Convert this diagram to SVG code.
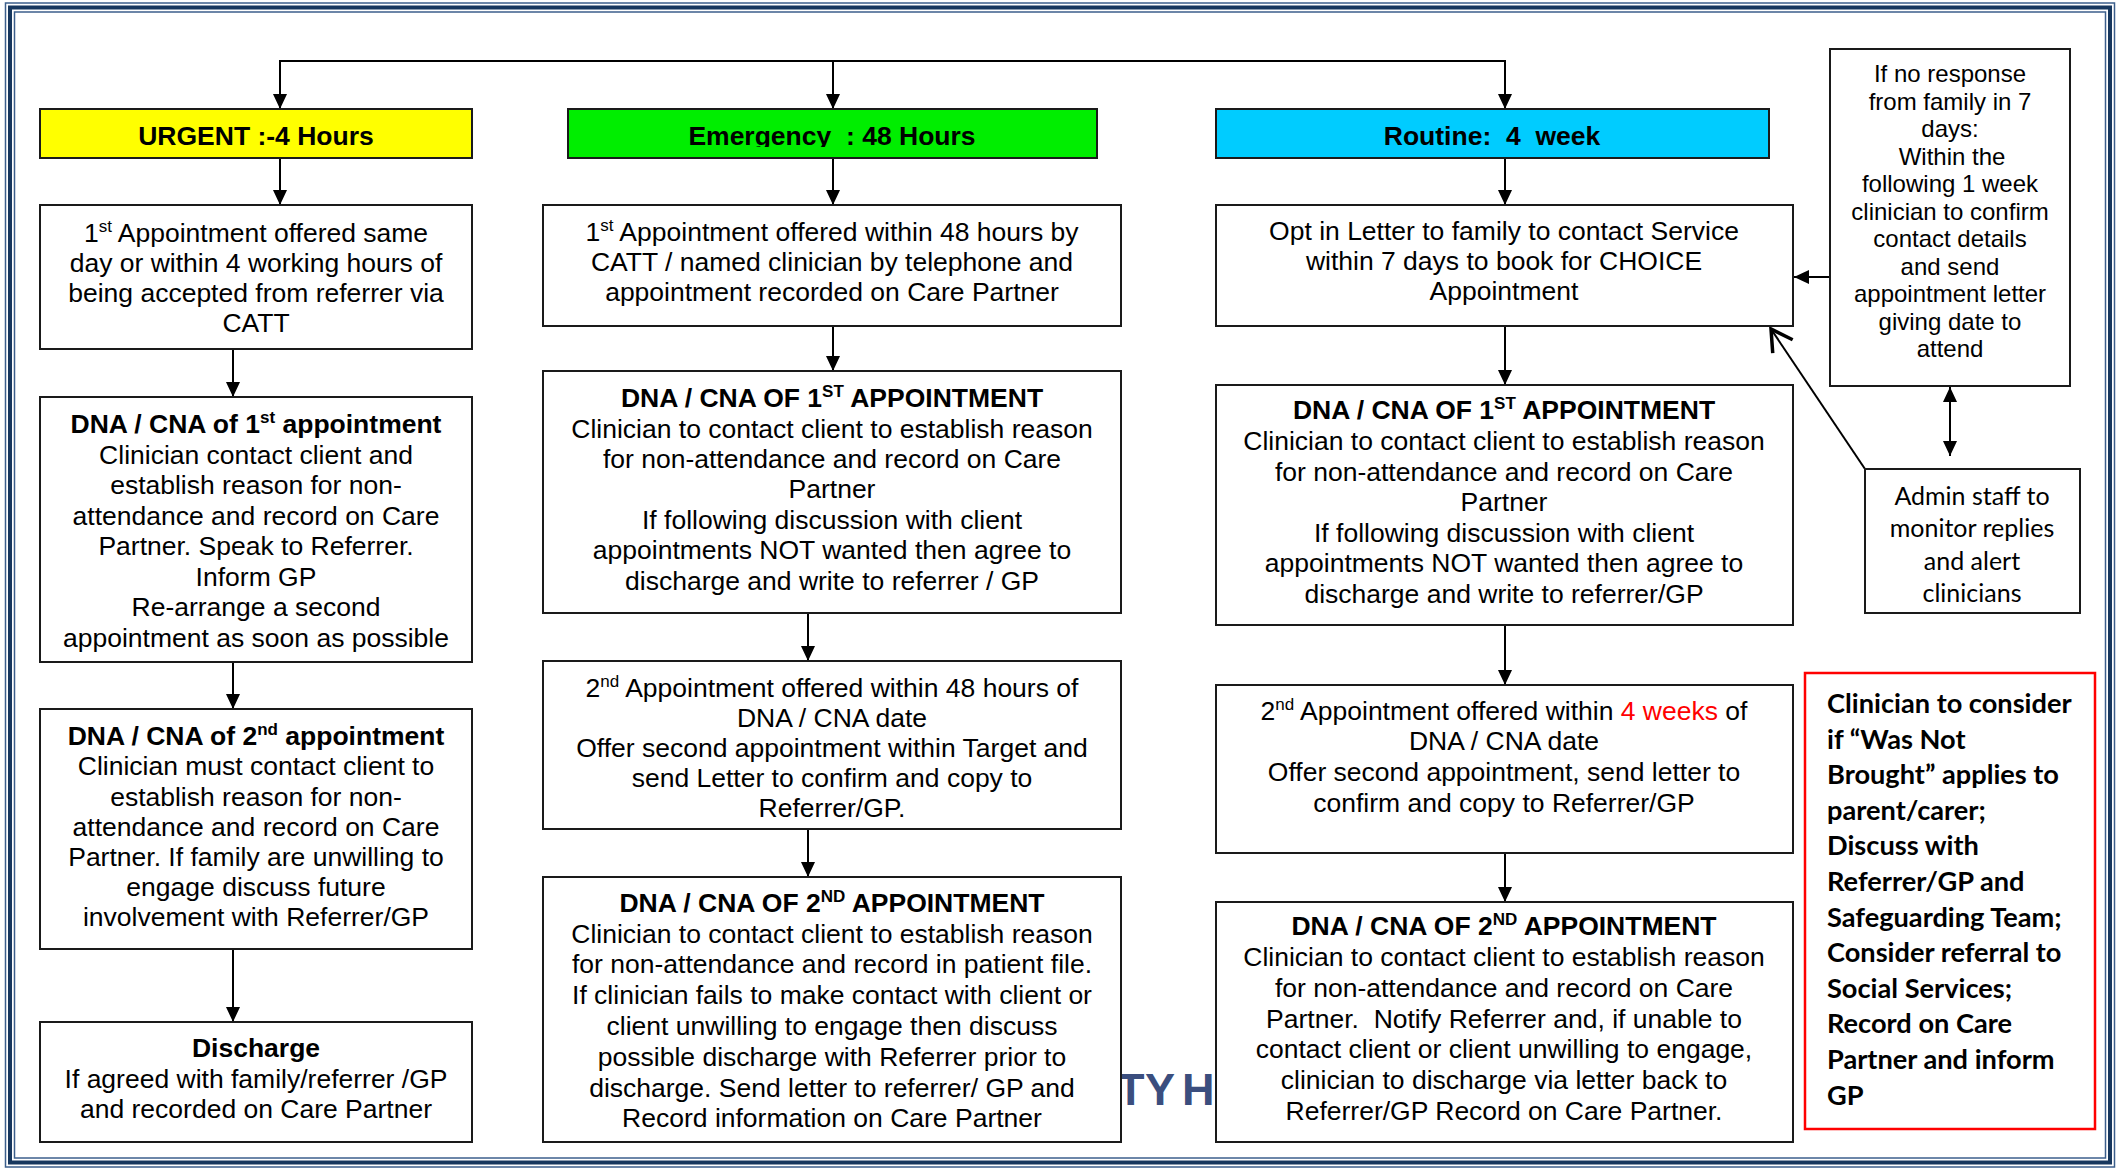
<svg xmlns="http://www.w3.org/2000/svg" width="2120" height="1170" viewBox="0 0 2120 1170">
<style>
.box{fill:#fff;stroke:#1a1a1a;stroke-width:2}
.t{font-family:"Liberation Sans",Arial,sans-serif;font-size:26.5px;fill:#000;text-anchor:middle}
.b{font-weight:bold}
.n{font-family:"Liberation Sans",Arial,sans-serif;font-size:24px;fill:#000;text-anchor:middle}
.c{font-family:Lato,"Open Sans",sans-serif;font-size:25px;fill:#000}
.r{font-family:Lato,"Open Sans",sans-serif;font-size:27.2px;font-weight:bold;fill:#000}
.conn{stroke:#000;stroke-width:2;fill:none}
.sup{font-size:17px}
</style>
<defs>
<marker id="ah" markerUnits="userSpaceOnUse" markerWidth="15" markerHeight="14" refX="15" refY="7" orient="auto-start-reverse">
<path d="M0,0 L15,7 L0,14 z" fill="#000"/>
</marker>
<marker id="oh" markerUnits="userSpaceOnUse" markerWidth="24" markerHeight="26" refX="22" refY="13" orient="auto" overflow="visible">
<path d="M1,1 L22,13 L1,25" fill="none" stroke="#000" stroke-width="3.5"/>
</marker>
<clipPath id="hclip"><rect x="568" y="109" width="529" height="38"/></clipPath>
</defs>
<rect width="2120" height="1170" fill="#fff"/>
<g id="frame" fill="none">
<rect x="5.5" y="3" width="2109" height="1164" stroke="#3c5f8c" stroke-width="1.5"/>
<rect x="10" y="7.5" width="2100" height="1155" stroke="#17375E" stroke-width="4"/>
<rect x="14.5" y="12" width="2091" height="1146" stroke="#3c5f8c" stroke-width="1.5"/>
</g>
<text x="1117 1145 1172 1182" y="1105" font-family="Liberation Sans,Arial,sans-serif" font-weight="bold" font-size="45" fill="#3B4E7E">TY H</text>
<g id="connectors">
<path class="conn" d="M280,109 V61 H1505 V109" marker-start="url(#ah)" marker-end="url(#ah)"/>
<path class="conn" d="M833,61 V109" marker-end="url(#ah)"/>
<path class="conn" d="M280,158 V205" marker-end="url(#ah)"/>
<path class="conn" d="M233,349 V397" marker-end="url(#ah)"/>
<path class="conn" d="M233,662 V709" marker-end="url(#ah)"/>
<path class="conn" d="M233,949 V1022" marker-end="url(#ah)"/>
<path class="conn" d="M833,158 V205" marker-end="url(#ah)"/>
<path class="conn" d="M833,326 V371" marker-end="url(#ah)"/>
<path class="conn" d="M808,613 V661" marker-end="url(#ah)"/>
<path class="conn" d="M808,829 V877" marker-end="url(#ah)"/>
<path class="conn" d="M1505,158 V205" marker-end="url(#ah)"/>
<path class="conn" d="M1505,326 V385" marker-end="url(#ah)"/>
<path class="conn" d="M1505,625 V685" marker-end="url(#ah)"/>
<path class="conn" d="M1505,853 V902" marker-end="url(#ah)"/>
<path class="conn" d="M1832,277 H1794" marker-end="url(#ah)" stroke-width="2.5"/>
<path class="conn" d="M1950,387 V456" marker-start="url(#ah)" marker-end="url(#ah)" stroke-width="2.5"/>
<path class="conn" d="M1865,469 L1771,329" marker-end="url(#oh)" stroke-width="3.5"/>
</g>
<g id="urgent-header">
<rect x="40" y="109" width="432" height="49" fill="#FFFF00" stroke="#1a1a1a" stroke-width="2"/>
<text class="t b" x="256" y="145">URGENT :-4 Hours</text>
</g>
<g id="emergency-header">
<rect x="568" y="109" width="529" height="49" fill="#00EE00" stroke="#1a1a1a" stroke-width="2"/>
<text class="t b" x="832" y="145" clip-path="url(#hclip)" xml:space="preserve">Emergency  : 48 Hours</text>
</g>
<g id="routine-header">
<rect x="1216" y="109" width="553" height="49" fill="#00CCFF" stroke="#1a1a1a" stroke-width="2"/>
<text class="t b" x="1492" y="145" xml:space="preserve">Routine:  4  week</text>
</g>
<g id="urgent-1">
<rect class="box" x="40" y="205" width="432" height="144"/>
<text class="t" x="256" y="242">1<tspan class="sup" dy="-10">st</tspan><tspan dy="10"> Appointment offered same</tspan></text>
<text class="t" x="256" y="272">day or within 4 working hours of</text>
<text class="t" x="256" y="302">being accepted from referrer via</text>
<text class="t" x="256" y="332">CATT</text>
</g>
<g id="urgent-2">
<rect class="box" x="40" y="397" width="432" height="265"/>
<text class="t b" x="256" y="433">DNA / CNA of 1<tspan class="sup" dy="-10">st</tspan><tspan dy="10"> appointment</tspan></text>
<text class="t" x="256" y="464">Clinician contact client and</text>
<text class="t" x="256" y="494">establish reason for non-</text>
<text class="t" x="256" y="525">attendance and record on Care</text>
<text class="t" x="256" y="555">Partner. Speak to Referrer.</text>
<text class="t" x="256" y="586">Inform GP</text>
<text class="t" x="256" y="616">Re-arrange a second</text>
<text class="t" x="256" y="647">appointment as soon as possible</text>
</g>
<g id="urgent-3">
<rect class="box" x="40" y="709" width="432" height="240"/>
<text class="t b" x="256" y="745">DNA / CNA of 2<tspan class="sup" dy="-10">nd</tspan><tspan dy="10"> appointment</tspan></text>
<text class="t" x="256" y="775">Clinician must contact client to</text>
<text class="t" x="256" y="806">establish reason for non-</text>
<text class="t" x="256" y="836">attendance and record on Care</text>
<text class="t" x="256" y="866">Partner. If family are unwilling to</text>
<text class="t" x="256" y="896">engage discuss future</text>
<text class="t" x="256" y="926">involvement with Referrer/GP</text>
</g>
<g id="urgent-discharge">
<rect class="box" x="40" y="1022" width="432" height="120"/>
<text class="t b" x="256" y="1057">Discharge</text>
<text class="t" x="256" y="1088">If agreed with family/referrer /GP</text>
<text class="t" x="256" y="1118">and recorded on Care Partner</text>
</g>
<g id="emergency-1">
<rect class="box" x="543" y="205" width="578" height="121"/>
<text class="t" x="832" y="241">1<tspan class="sup" dy="-10">st</tspan><tspan dy="10"> Appointment offered within 48 hours by</tspan></text>
<text class="t" x="832" y="271">CATT / named clinician by telephone and</text>
<text class="t" x="832" y="301">appointment recorded on Care Partner</text>
</g>
<g id="emergency-2">
<rect class="box" x="543" y="371" width="578" height="242"/>
<text class="t b" x="832" y="407">DNA / CNA OF 1<tspan class="sup" dy="-10">ST</tspan><tspan dy="10"> APPOINTMENT</tspan></text>
<text class="t" x="832" y="438">Clinician to contact client to establish reason</text>
<text class="t" x="832" y="468">for non-attendance and record on Care</text>
<text class="t" x="832" y="498">Partner</text>
<text class="t" x="832" y="529">If following discussion with client</text>
<text class="t" x="832" y="559">appointments NOT wanted then agree to</text>
<text class="t" x="832" y="590">discharge and write to referrer / GP</text>
</g>
<g id="emergency-3">
<rect class="box" x="543" y="661" width="578" height="168"/>
<text class="t" x="832" y="697">2<tspan class="sup" dy="-10">nd</tspan><tspan dy="10"> Appointment offered within 48 hours of</tspan></text>
<text class="t" x="832" y="727">DNA / CNA date</text>
<text class="t" x="832" y="757">Offer second appointment within Target and</text>
<text class="t" x="832" y="787">send Letter to confirm and copy to</text>
<text class="t" x="832" y="817">Referrer/GP.</text>
</g>
<g id="emergency-4">
<rect class="box" x="543" y="877" width="578" height="265"/>
<text class="t b" x="832" y="912">DNA / CNA OF 2<tspan class="sup" dy="-10">ND</tspan><tspan dy="10"> APPOINTMENT</tspan></text>
<text class="t" x="832" y="943">Clinician to contact client to establish reason</text>
<text class="t" x="832" y="973">for non-attendance and record in patient file.</text>
<text class="t" x="832" y="1004">If clinician fails to make contact with client or</text>
<text class="t" x="832" y="1035">client unwilling to engage then discuss</text>
<text class="t" x="832" y="1066">possible discharge with Referrer prior to</text>
<text class="t" x="832" y="1097">discharge. Send letter to referrer/ GP and</text>
<text class="t" x="832" y="1127">Record information on Care Partner</text>
</g>
<g id="routine-1">
<rect class="box" x="1216" y="205" width="577" height="121"/>
<text class="t" x="1504" y="240">Opt in Letter to family to contact Service</text>
<text class="t" x="1504" y="270">within 7 days to book for CHOICE</text>
<text class="t" x="1504" y="300">Appointment</text>
</g>
<g id="routine-2">
<rect class="box" x="1216" y="385" width="577" height="240"/>
<text class="t b" x="1504" y="419">DNA / CNA OF 1<tspan class="sup" dy="-10">ST</tspan><tspan dy="10"> APPOINTMENT</tspan></text>
<text class="t" x="1504" y="450">Clinician to contact client to establish reason</text>
<text class="t" x="1504" y="481">for non-attendance and record on Care</text>
<text class="t" x="1504" y="511">Partner</text>
<text class="t" x="1504" y="542">If following discussion with client</text>
<text class="t" x="1504" y="572">appointments NOT wanted then agree to</text>
<text class="t" x="1504" y="603">discharge and write to referrer/GP</text>
</g>
<g id="routine-3">
<rect class="box" x="1216" y="685" width="577" height="168"/>
<text class="t" x="1504" y="720">2<tspan class="sup" dy="-10">nd</tspan><tspan dy="10"> Appointment offered within </tspan><tspan fill="#FF0000">4 weeks</tspan> of</text>
<text class="t" x="1504" y="750">DNA / CNA date</text>
<text class="t" x="1504" y="781">Offer second appointment, send letter to</text>
<text class="t" x="1504" y="812">confirm and copy to Referrer/GP</text>
</g>
<g id="routine-4">
<rect class="box" x="1216" y="902" width="577" height="240"/>
<text class="t b" x="1504" y="935">DNA / CNA OF 2<tspan class="sup" dy="-10">ND</tspan><tspan dy="10"> APPOINTMENT</tspan></text>
<text class="t" x="1504" y="966">Clinician to contact client to establish reason</text>
<text class="t" x="1504" y="997">for non-attendance and record on Care</text>
<text class="t" x="1504" y="1028" xml:space="preserve">Partner.  Notify Referrer and, if unable to</text>
<text class="t" x="1504" y="1058">contact client or client unwilling to engage,</text>
<text class="t" x="1504" y="1089">clinician to discharge via letter back to</text>
<text class="t" x="1504" y="1120">Referrer/GP Record on Care Partner.</text>
</g>
<g id="no-response-note">
<rect class="box" x="1830" y="49" width="240" height="337"/>
<text class="n" x="1950" y="82">If no response</text>
<text class="n" x="1950" y="109.5">from family in 7</text>
<text class="n" x="1950" y="137">days:</text>
<text class="n" x="1952" y="164.5">Within the</text>
<text class="n" x="1950" y="192">following 1 week</text>
<text class="n" x="1950" y="219.5">clinician to confirm</text>
<text class="n" x="1950" y="247">contact details</text>
<text class="n" x="1950" y="274.5">and send</text>
<text class="n" x="1950" y="302">appointment letter</text>
<text class="n" x="1950" y="329.5">giving date to</text>
<text class="n" x="1950" y="357">attend</text>
</g>
<g id="admin-box">
<rect class="box" x="1865" y="469" width="215" height="144"/>
<text class="c" x="1972" y="505" text-anchor="middle">Admin staff to</text>
<text class="c" x="1972" y="537" text-anchor="middle">monitor replies</text>
<text class="c" x="1972" y="570" text-anchor="middle">and alert</text>
<text class="c" x="1972" y="602" text-anchor="middle">clinicians</text>
</g>
<g id="was-not-brought">
<rect x="1805" y="673" width="290" height="456" fill="#fff" stroke="#FF0000" stroke-width="2.5"/>
<text class="r" x="1827" y="713">Clinician to consider</text>
<text class="r" x="1827" y="748.6">if “Was Not</text>
<text class="r" x="1827" y="784.2">Brought” applies to</text>
<text class="r" x="1827" y="819.8">parent/carer;</text>
<text class="r" x="1827" y="855.4">Discuss with</text>
<text class="r" x="1827" y="891">Referrer/GP and</text>
<text class="r" x="1827" y="926.6">Safeguarding Team;</text>
<text class="r" x="1827" y="962.2">Consider referral to</text>
<text class="r" x="1827" y="997.8">Social Services;</text>
<text class="r" x="1827" y="1033.4">Record on Care</text>
<text class="r" x="1827" y="1069">Partner and inform</text>
<text class="r" x="1827" y="1104.6">GP</text>
</g>
</svg>
